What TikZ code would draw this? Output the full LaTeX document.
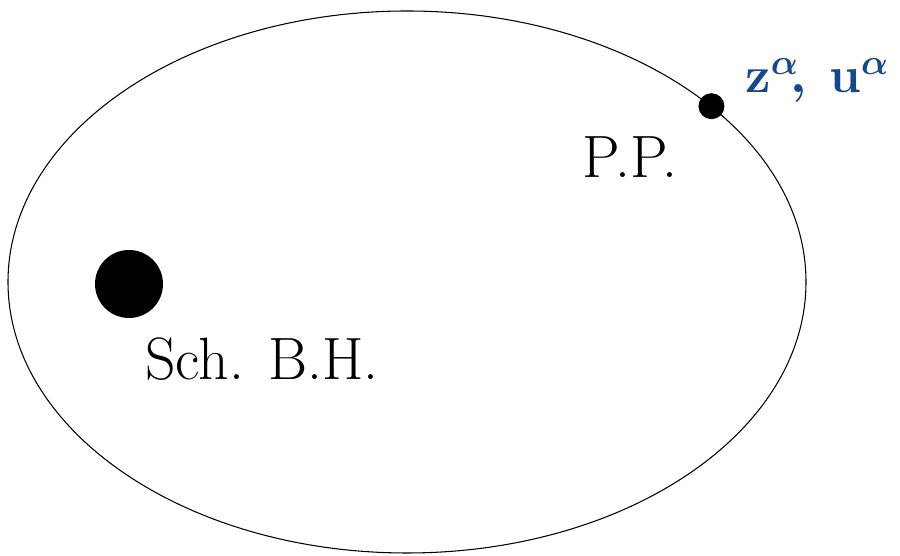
\RequirePackage{fix-cm}
\documentclass[tikz,border=0pt]{standalone}
\usepackage{amsmath, bm}
\usepackage{tikz}
\usetikzlibrary{shapes.geometric, positioning}
\definecolor{coordblue}{RGB}{22,72,140}
\tikzstyle{orbit} = [ellipse, draw=black, line width=0.6pt, minimum width=15.96cm, minimum height=10.84cm, inner sep=0pt]
\tikzstyle{hole} = [circle, fill=black, minimum size=1.36cm, inner sep=0pt]
\tikzstyle{particle} = [circle, fill=black, minimum size=0.52cm, inner sep=0pt]
\tikzstyle{tag} = [anchor=base, inner sep=0pt, font=\fontsize{34}{40}\selectfont]
\tikzstyle{coords} = [anchor=base west, inner sep=0pt, text=coordblue, font=\fontsize{29}{36}\selectfont]

\begin{document}
\begin{tikzpicture}
                \useasboundingbox (0,0) rectangle (18,11.12);

% ---------------------------------------------
% Orbit and bodies
% ---------------------------------------------
                \node (orbit) [orbit] at (8.14,5.48) {};
                \node (bh) [hole] at (2.58,5.44) {};
                \node (pp) [particle] at (orbit.30.4) {};

% ---------------------------------------------
% Labels
% ---------------------------------------------
                \node (bh_label) [tag] at (5.24,3.52) {Sch. B.H.};
                \node (pp_label) [tag] at (12.6,7.56) {P.P.};
                \node (pp_coords) [coords] at (14.9,9.26) {$\mathbf{z}^{\bm{\alpha}}\!\boldsymbol{,}\;\mathbf{u}^{\bm{\alpha}}$};

            \end{tikzpicture}
\end{document}
